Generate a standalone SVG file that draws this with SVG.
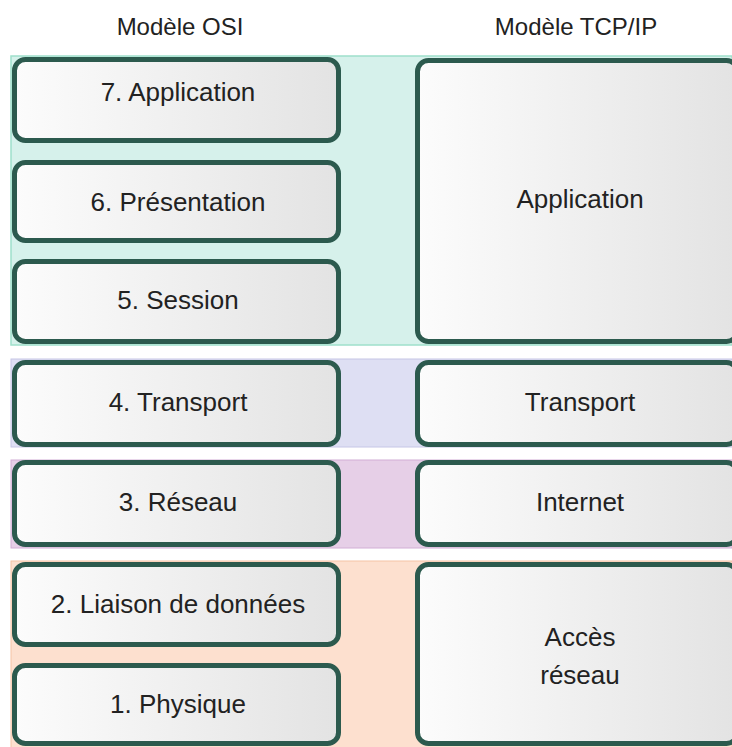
<svg xmlns="http://www.w3.org/2000/svg" width="732" height="747" viewBox="0 0 732 747">
<defs>
<linearGradient id="g" x1="0" y1="0" x2="1" y2="0">
<stop offset="0" stop-color="#fcfcfc"/>
<stop offset="1" stop-color="#e3e3e3"/>
</linearGradient>
</defs>
<style>
.box{fill:url(#g);stroke:#2c5a4e;stroke-width:5}
.t{font-family:"Liberation Sans",Arial,sans-serif;font-size:26px;fill:#222;text-anchor:middle}
.h{font-family:"Liberation Sans",Arial,sans-serif;font-size:24px;fill:#222;text-anchor:middle}
</style>
<rect width="732" height="747" fill="#ffffff"/>
<g id="bands">
<rect x="11" y="56" width="721" height="289" fill="#d6f1eb" stroke="#9fe0cb" stroke-width="1.5"/>
<rect x="11" y="359" width="721" height="88" fill="#dedff3" stroke="#c6c6e6" stroke-width="1"/>
<rect x="11" y="460" width="721" height="88" fill="#e6cfe7" stroke="#d2aed5" stroke-width="1"/>
<rect x="11" y="561" width="721" height="190" fill="#fde0cf" stroke="#f5c3a5" stroke-width="1"/>
</g>
<text class="h" x="180" y="35">Modèle OSI</text>
<text class="h" x="576" y="35">Modèle TCP/IP</text>
<g id="osi7"><rect class="box" x="14.5" y="59.5" width="324" height="81" rx="11"/><text class="t" x="178" y="101">7. Application</text></g>
<g id="osi6"><rect class="box" x="14.5" y="162.5" width="324" height="78" rx="11"/><text class="t" x="178" y="211">6. Présentation</text></g>
<g id="osi5"><rect class="box" x="14.5" y="261.5" width="324" height="80" rx="11"/><text class="t" x="178" y="309">5. Session</text></g>
<g id="osi4"><rect class="box" x="14.5" y="362.5" width="324" height="82" rx="11"/><text class="t" x="178" y="411">4. Transport</text></g>
<g id="osi3"><rect class="box" x="14.5" y="462.5" width="324" height="82" rx="11"/><text class="t" x="178" y="511">3. Réseau</text></g>
<g id="osi2"><rect class="box" x="14.5" y="564.5" width="324" height="80" rx="11"/><text class="t" x="178" y="613">2. Liaison de données</text></g>
<g id="osi1"><rect class="box" x="14.5" y="665.5" width="324" height="78" rx="11"/><text class="t" x="178" y="713">1. Physique</text></g>
<g id="tcp_app"><rect class="box" x="417.5" y="60.5" width="320" height="281" rx="11"/><text class="t" x="580" y="208">Application</text></g>
<g id="tcp_transport"><rect class="box" x="417.5" y="362.5" width="320" height="82" rx="11"/><text class="t" x="580" y="411">Transport</text></g>
<g id="tcp_internet"><rect class="box" x="417.5" y="462.5" width="320" height="82" rx="11"/><text class="t" x="580" y="511">Internet</text></g>
<g id="tcp_access"><rect class="box" x="417.5" y="564.5" width="320" height="179" rx="11"/><text class="t" x="580" y="646">Accès</text><text class="t" x="580" y="684">réseau</text></g>
<g id="connectors"/>
</svg>
